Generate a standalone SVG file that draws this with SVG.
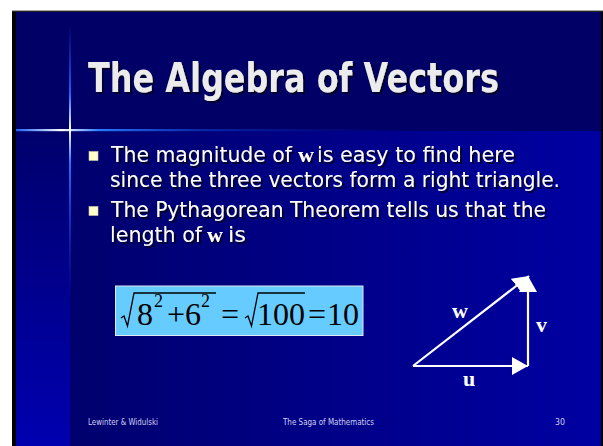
<svg xmlns="http://www.w3.org/2000/svg" width="603" height="446" viewBox="0 0 603 446">
  <defs>
    <linearGradient id="bodyGrad" x1="0" y1="0" x2="1" y2="0">
      <stop offset="0" stop-color="#00006e"/>
      <stop offset="1" stop-color="#0000a2"/>
    </linearGradient>
    <linearGradient id="stripGrad" x1="0" y1="0" x2="0" y2="1">
      <stop offset="0" stop-color="#00006c"/>
      <stop offset="1" stop-color="#0000b0"/>
    </linearGradient>
    <linearGradient id="hLine" x1="16" y1="0" x2="430" y2="0" gradientUnits="userSpaceOnUse">
      <stop offset="0" stop-color="#1e6cff" stop-opacity="0.9"/>
      <stop offset="0.11" stop-color="#ffffff"/>
      <stop offset="0.2" stop-color="#2a7aff"/>
      <stop offset="0.45" stop-color="#1040d0" stop-opacity="0.6"/>
      <stop offset="1" stop-color="#0000a0" stop-opacity="0"/>
    </linearGradient>
    <linearGradient id="vLine" x1="0" y1="25" x2="0" y2="300" gradientUnits="userSpaceOnUse">
      <stop offset="0" stop-color="#1e50ff" stop-opacity="0"/>
      <stop offset="0.25" stop-color="#1e60ff"/>
      <stop offset="0.38" stop-color="#ffffff"/>
      <stop offset="0.5" stop-color="#2a70ff"/>
      <stop offset="1" stop-color="#1030d0" stop-opacity="0"/>
    </linearGradient>
    <filter id="shadow" x="-5%" y="-20%" width="110%" height="150%">
      <feDropShadow dx="2" dy="2" stdDeviation="0.6" flood-color="#000022" flood-opacity="0.9"/>
    </filter>
    <marker id="arrow" markerUnits="userSpaceOnUse" markerWidth="18" markerHeight="20" refX="16" refY="9" orient="auto">
      <path d="M0,0 L16,9 L0,18 z" fill="#ffffff"/>
    </marker>
  </defs>
  <style>
    .body { font-family: "DejaVu Sans", "Liberation Sans", sans-serif; font-size: 21px; fill: #ffffff; }
    .bw { font-family: "Liberation Serif", serif; font-weight: bold; font-size: 22px; fill: #ffffff; }
    .foot { font-family: "DejaVu Sans", "Liberation Sans", sans-serif; font-size: 9px; fill: #d0d0f0; }
    .eq { font-family: "Liberation Serif", serif; font-size: 32px; fill: #000000; }
    .sup { font-family: "Liberation Serif", serif; font-size: 18px; fill: #000000; }
    .vec { stroke: #ffffff; stroke-width: 2.2; fill: none; }
    .lbl { font-family: "Liberation Serif", serif; font-weight: bold; font-size: 22px; fill: #ffffff; }
  </style>

  <!-- background -->
  <rect x="0" y="0" width="603" height="446" fill="#ffffff"/>
  <rect x="12" y="10" width="591" height="436" fill="#000000"/>
  <rect x="12" y="10" width="591" height="1.2" fill="#a8a8a8"/>
  <rect x="16" y="12" width="585" height="119" fill="#000066"/>
  <rect x="16" y="131" width="54" height="315" fill="url(#stripGrad)"/>
  <rect x="70" y="131" width="531" height="315" fill="url(#bodyGrad)"/>
  <rect x="16" y="129" width="414" height="2.2" fill="url(#hLine)"/>
  <rect x="69" y="25" width="2" height="275" fill="url(#vLine)"/>

  <!-- title -->
  <g id="title" filter="url(#shadow)">
    <text x="88" y="92" font-family="DejaVu Sans, Liberation Sans, sans-serif" font-weight="bold" font-size="40" fill="#ececec" textLength="411" lengthAdjust="spacingAndGlyphs">The Algebra of Vectors</text>
  </g>

  <!-- bullets -->
  <g id="bullets">
    <rect x="89" y="151.5" width="9" height="9" fill="#ffffcc" stroke="#c8c8a0" stroke-width="0.6"/>
    <rect x="89" y="206.5" width="9" height="9" fill="#ffffcc" stroke="#c8c8a0" stroke-width="0.6"/>
    <g filter="url(#shadow)">
      <text class="body" x="111" y="162" textLength="181" lengthAdjust="spacingAndGlyphs">The magnitude of</text>
      <text class="bw" x="298" y="162">w</text>
      <text class="body" x="317" y="162" textLength="198" lengthAdjust="spacingAndGlyphs">is easy to find here</text>
      <text class="body" x="110" y="187" textLength="450" lengthAdjust="spacingAndGlyphs">since the three vectors form a right triangle.</text>
      <text class="body" x="111" y="217" textLength="435" lengthAdjust="spacingAndGlyphs">The Pythagorean Theorem tells us that the</text>
      <text class="body" x="110" y="242" textLength="92" lengthAdjust="spacingAndGlyphs">length of</text>
      <text class="bw" x="207" y="242">w</text>
      <text class="body" x="228" y="242" textLength="18" lengthAdjust="spacingAndGlyphs">is</text>
    </g>
  </g>

  <!-- equation -->
  <g id="equation">
    <rect x="115.5" y="286" width="247.5" height="49.5" fill="#66ccff" stroke="#e0e8f0" stroke-width="1"/>
    <polyline points="121,318 124,316 127.5,326 134,293 216,293" fill="none" stroke="#000000" stroke-width="1.3"/>
    <text class="eq" x="137" y="325">8</text>
    <text class="sup" x="154" y="307">2</text>
    <text class="eq" x="167" y="325">+</text>
    <text class="eq" x="185" y="325">6</text>
    <text class="sup" x="201" y="307">2</text>
    <text class="eq" x="221" y="325">=</text>
    <polyline points="245,318 248,316 251.5,326 258,293 305,293" fill="none" stroke="#000000" stroke-width="1.3"/>
    <text class="eq" x="257" y="325">100</text>
    <text class="eq" x="308" y="325">=</text>
    <text class="eq" x="327" y="325">10</text>
  </g>

  <!-- vector triangle -->
  <g id="connectors">
    <line class="vec" x1="413" y1="366" x2="528" y2="366" marker-end="url(#arrow)"/>
    <line class="vec" x1="528" y1="366" x2="528" y2="276" marker-end="url(#arrow)"/>
    <line class="vec" x1="413" y1="366" x2="529" y2="276" marker-end="url(#arrow)"/>
  </g>
  <g id="label-w"><text class="lbl" x="452" y="318">w</text></g>
  <g id="label-v"><text class="lbl" x="536" y="332">v</text></g>
  <g id="label-u"><text class="lbl" x="463" y="386">u</text></g>

  <!-- footer -->
  <g id="footer">
    <text class="foot" x="88" y="425" textLength="70" lengthAdjust="spacingAndGlyphs">Lewinter &amp; Widulski</text>
    <text class="foot" x="283" y="425" textLength="91" lengthAdjust="spacingAndGlyphs">The Saga of Mathematics</text>
    <text class="foot" x="555" y="425" textLength="10" lengthAdjust="spacingAndGlyphs">30</text>
  </g>
</svg>
